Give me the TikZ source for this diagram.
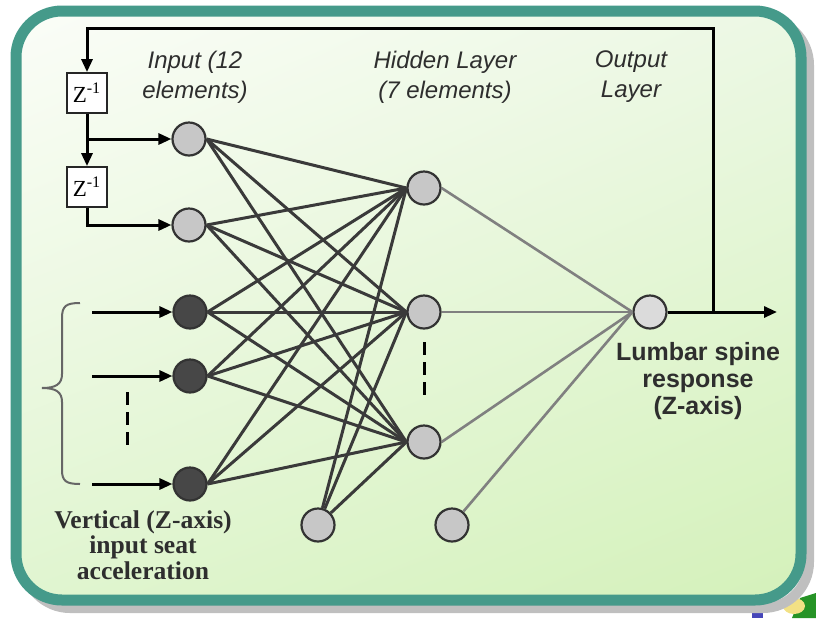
\documentclass[tikz,border=0pt]{standalone}
\usepackage{fontspec}
\setmainfont{Liberation Serif}
\setsansfont{Liberation Sans}
\usetikzlibrary{arrows.meta}
\usetikzlibrary{shadings}

\definecolor{frameteal}{HTML}{459A8A}
\definecolor{linkdark}{HTML}{3A3A3A}
\definecolor{linklight}{HTML}{808080}
\definecolor{textgray}{HTML}{2E2E2E}
\definecolor{panelUL}{HTML}{FBFDF8}
\definecolor{panelUR}{HTML}{ECF8E4}
\definecolor{panelLL}{HTML}{E0F5D0}
\definecolor{panelLR}{HTML}{D4F1BA}

\begin{document}
\begin{tikzpicture}[x=0.5pt, y=-0.5pt,
    neuron/.style={circle, draw=black!80, line width=1.1pt, fill=black!22, minimum size=16.5pt, inner sep=0pt},
    darkneuron/.style={neuron, fill=black!72},
    delay/.style={draw=black!85, line width=0.9pt, fill=white, minimum width=20pt, minimum height=20pt, inner sep=0pt,
        font=\fontsize{11.5}{12}\selectfont},
    sig/.style={line width=1.5pt, -{Triangle[length=6.5pt, width=5.5pt]}},
    wgt/.style={linkdark, line width=1.5pt},
    wgtout/.style={linklight, line width=1.3pt},
    layertxt/.style={text=textgray, align=center, font=\sffamily\itshape\fontsize{12}{15}\selectfont},
    dots/.style={line width=1.5pt, dash pattern=on 6.5pt off 3.5pt}]

\useasboundingbox (0,0) rectangle (816,618);

% --- FRAME: shadow, panel and border ---
\fill[green!50!black!85] (800,598) -- (816,593) -- (816,618) -- (792,618) -- cycle;
\fill[yellow!60!brown!55] (794,606) ellipse (11 and 8);
\fill[blue!45!gray] (752,602) rectangle (763,618);
\draw[line width=5pt, draw=black!25, fill=black!10, fill opacity=0.6, rounded corners=23pt] (24,19) rectangle (809,608);
\shade[rounded corners=23pt, upper left=panelUL, upper right=panelUR,
    lower left=panelLL, lower right=panelLR] (16,11) rectangle (801,600);
\draw[frameteal, line width=5.5pt, rounded corners=23pt] (16,11) rectangle (801,600);

% --- NODES ---
\node[neuron]     (i1) at (189,139) {};
\node[neuron]     (i2) at (189,225) {};
\node[darkneuron] (i3) at (190,312) {};
\node[darkneuron] (i4) at (190,376) {};
\node[darkneuron] (i5) at (190,484) {};

\node[neuron] (h1) at (424,188) {};
\node[neuron] (h2) at (424,312) {};
\node[neuron] (h3) at (424,442) {};

\node[neuron] (b1) at (318,525) {};
\node[neuron] (b2) at (452,525) {};

\node[neuron, fill=black!14] (out) at (650,312) {};

\node[delay] (z1) at (87,93) {Z\textsuperscript{-1}};
\node[delay] (z2) at (87,187) {Z\textsuperscript{-1}};

% --- WEIGHTED LINKS ---
\foreach \a in {1,...,5}
    \foreach \b in {1,2,3}
        \draw[wgt] (i\a.east) -- (h\b.west);
\foreach \b in {1,2,3}
    \draw[wgt] (b1) -- (h\b.west);
\foreach \b in {1,2,3}
    \draw[wgtout] (h\b.east) -- (out.west);
\draw[wgtout] (b2) -- (out.west);

% --- FEEDBACK through the delays ---
\coordinate (outend) at (777,312);
\coordinate (fbtap) at (713,312);
\coordinate (fbtop) at (713,28);
\coordinate (br1) at (87,139);

\draw[sig] (out.east) -- (outend);
\draw[sig] (fbtap) -- (fbtop) -| (z1.north);
\draw[sig] (z1.south) -- (z2.north);
\draw[sig] (br1) -- (i1.west);
\draw[sig] (z2.south) |- (i2.west);

% seat acceleration inputs
\coordinate (a3) at (92,312);
\coordinate (a4) at (92,376);
\coordinate (a5) at (92,484);
\foreach \k in {3,4,5}
    \draw[sig] (a\k) -- (i\k.west);

% brace round the seat inputs
\draw[black!60, line width=1pt] (80,303) .. controls (66,303) and (62,306) .. (62,318) -- (62,374)
    .. controls (62,384) and (56,388) .. (42,388) .. controls (56,388) and (62,392) .. (62,402)
    -- (62,470) .. controls (62,481) and (66,484) .. (80,484);

\draw[dots] (127,392) -- (127,447);
\draw[dots] (424,342) -- (424,402);

% --- LABELS ---
\node[layertxt] (lin)  at (195,77) {Input (12\\elements)};
\node[layertxt] (lhid) at (445,77) {Hidden Layer\\(7 elements)};
\node[layertxt] (lout) at (631,77) {Output\\Layer};

\node[text=textgray, align=center, font=\sffamily\bfseries\fontsize{12.5}{13.3}\selectfont] (lresp) at (698,381)
    {Lumbar spine\\response\\(Z-axis)};
\node[text=textgray, align=center, font=\bfseries\fontsize{12.8}{12.8}\selectfont] (lseat) at (143,545)
    {Vertical (Z-axis)\\input seat\\acceleration};

\end{tikzpicture}
\end{document}
